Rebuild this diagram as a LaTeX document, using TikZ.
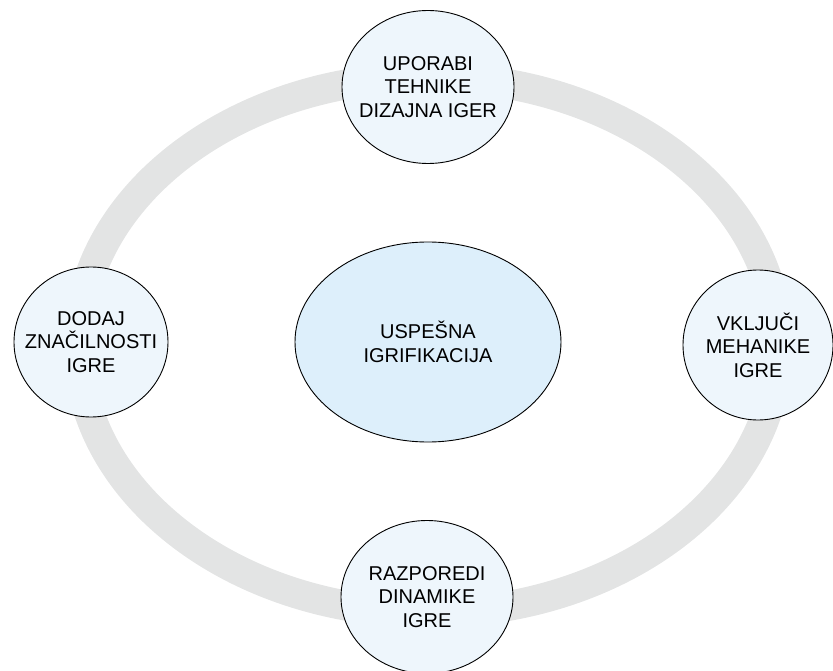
\documentclass[tikz,border=0pt]{standalone}
\usepackage{fontspec}
\setmainfont{Liberation Sans}
\usetikzlibrary{shapes.geometric}
\definecolor{ringgray}{HTML}{E3E4E4}
\definecolor{partfill}{HTML}{EEF6FC}
\definecolor{corefill}{HTML}{DDEFFB}

\begin{document}
\begin{tikzpicture}[x=1pt,y=-1pt,
  part/.style={draw,ellipse,fill=partfill,line width=0.9pt,inner sep=0pt},
  core/.style={part,fill=corefill},
  every label/.style={align=center,font=\fontsize{20}{23.5}\selectfont}]
\useasboundingbox (0,0) rectangle (833,671);
\draw[ringgray,line width=30pt] (428,345) ellipse [x radius=350,y radius=268];

\node[core,minimum width=266pt,minimum height=200pt,label=center:{USPEŠNA\\IGRIFIKACIJA}] (uspesna) at (428,342) {};
\node[part,minimum width=172pt,minimum height=153pt,label=center:{UPORABI\\TEHNIKE\\DIZAJNA IGER}] (tehnike) at (428,87) {};
\node[part,minimum width=150pt,minimum height=150pt,label=center:{VKLJUČI\\MEHANIKE\\IGRE}] (mehanike) at (758,345) {};
\node[part,minimum width=172pt,minimum height=153pt,label=center:{RAZPOREDI\\DINAMIKE\\IGRE}] (dinamike) at (427,597) {};
\node[part,minimum width=154pt,minimum height=150pt,label=center:{DODAJ\\ZNAČILNOSTI\\IGRE}] (znacilnosti) at (91,342) {};
\end{tikzpicture}
\end{document}
